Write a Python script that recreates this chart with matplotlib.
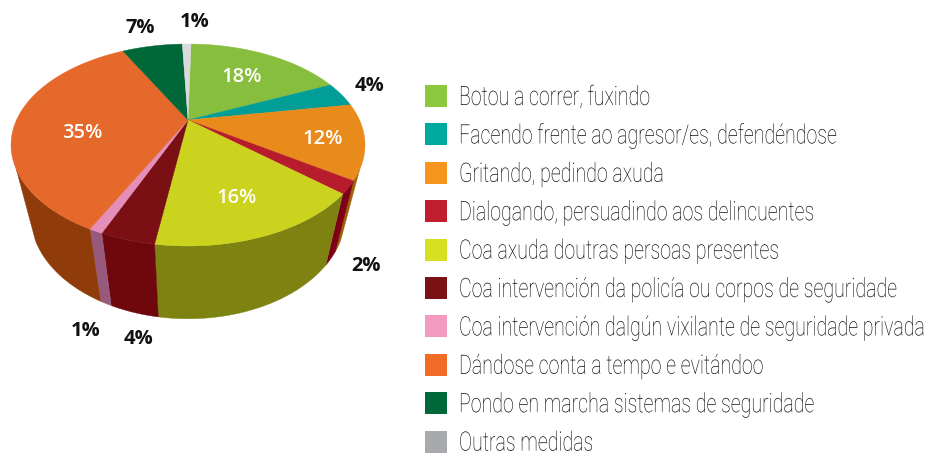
import numpy as np
import matplotlib
matplotlib.use("Agg")
import matplotlib.pyplot as plt
import matplotlib.patheffects as pe
from matplotlib.patches import Rectangle
from matplotlib.transforms import Affine2D

categories = ["Botou a correr, fuxindo",
              "Facendo frente ao agresor/es, defendéndose",
              "Gritando, pedindo axuda",
              "Dialogando, persuadindo aos delincuentes",
              "Coa axuda doutras persoas presentes",
              "Coa intervención da policía ou corpos de seguridade",
              "Coa intervención dalgún vixilante de seguridade privada",
              "Dándose conta a tempo e evitándoo",
              "Pondo en marcha sistemas de seguridade",
              "Outras medidas"]
values = [18, 4, 12, 2, 16, 4, 1, 35, 7, 1]

top_colors = ["#88be3e", "#009e96", "#e98b1b", "#b71c2d", "#cbd31f",
              "#7a1014", "#e58eb9", "#e5692a", "#006838", "#d9dadc"]
side_colors = ["#5c7d28", "#006660", "#a05f00", "#7d0018", "#7d8210",
               "#6e080d", "#985a7c", "#903c0a", "#004525", "#8e8f91"]
legend_colors = ["#8dc63f", "#00a99d", "#f7941d", "#be1e2d", "#d7df23",
                 "#7a1214", "#f49ac1", "#f26c28", "#006838", "#a7a9ac"]

# where the percent labels sit, in pixels
label_x = [242, 369, 323, 366, 237, 138, 86, 82, 140, 195]
label_y = [77, 86, 139, 266, 198, 339, 331, 133, 28, 22]
label_colors = ["white", "#111111", "white", "#111111", "white",
                "#111111", "#111111", "white", "#111111", "#111111"]
label_weights = ["semibold", "bold", "semibold", "bold", "semibold",
                 "bold", "bold", "semibold", "bold", "bold"]

# perspective of the pie
cx, cy = 188, 120
rx, ry, k = 171.5, 94.8, 0.2475
base_x, base_y, base_off = 0.89, 1.03, 69
start = 1.25
wall_from, wall_to = 117.8, 242.2


def rim(t):
    t = np.radians(t)
    d = 1 + k * np.cos(t)
    return rx * np.sin(t) / d, -ry * np.cos(t) / d


def top_rim(t):
    x, y = rim(t)
    return cx + x, cy + y


def base_rim(t):
    x, y = rim(t)
    return cx + base_x * x, cy + base_y * y + base_off


# the legend font of the original is condensed, none is installed, so a
# small font is stretched upwards from its baseline
class TallText(pe.AbstractPathEffect):
    def __init__(self, factor):
        super().__init__()
        self.factor = factor

    def draw_path(self, renderer, gc, tpath, affine, rgbFace=None):
        renderer.draw_path(gc, tpath, Affine2D().scale(1, self.factor) + affine, rgbFace)


fig = plt.figure(figsize=(9.3, 4.53), dpi=100)
ax = fig.add_axes([0, 0, 1, 1])
ax.set_xlim(0, 930)
ax.set_ylim(453, 0)
ax.axis("off")

edges = start + np.cumsum([0] + values) * 3.6

# side walls
for i in range(len(values)):
    a = max(edges[i], wall_from)
    b = min(edges[i + 1], wall_to)
    if b <= a:
        continue
    t = np.linspace(a, b, 60)
    xt, yt = top_rim(t)
    xb, yb = base_rim(t)
    ax.fill(np.r_[xt, xb[::-1]], np.r_[yt, yb[::-1]], color=side_colors[i], lw=0.3)

# top face
for i in range(len(values)):
    t = np.linspace(edges[i], edges[i + 1], 60)
    xt, yt = top_rim(t)
    ax.fill(np.r_[cx, xt], np.r_[cy, yt], color=top_colors[i], lw=0.3)

for i in range(len(values)):
    ax.text(label_x[i], label_y[i], str(values[i]) + "%", color=label_colors[i],
            fontsize=14.5, fontweight=label_weights[i], family="Open Sans",
            ha="center", va="center")

# legend
for i in range(len(categories)):
    y = 96 + i * 38.4
    ax.add_patch(Rectangle((425, y - 11), 22, 22, color=legend_colors[i], lw=0))
    ax.text(459, y + 9, categories[i], fontsize=14.1, color="#000000",
            family="Roboto", fontweight="light", ha="left", va="baseline",
            path_effects=[TallText(1.36)])

fig.savefig("out.png", dpi=100)
